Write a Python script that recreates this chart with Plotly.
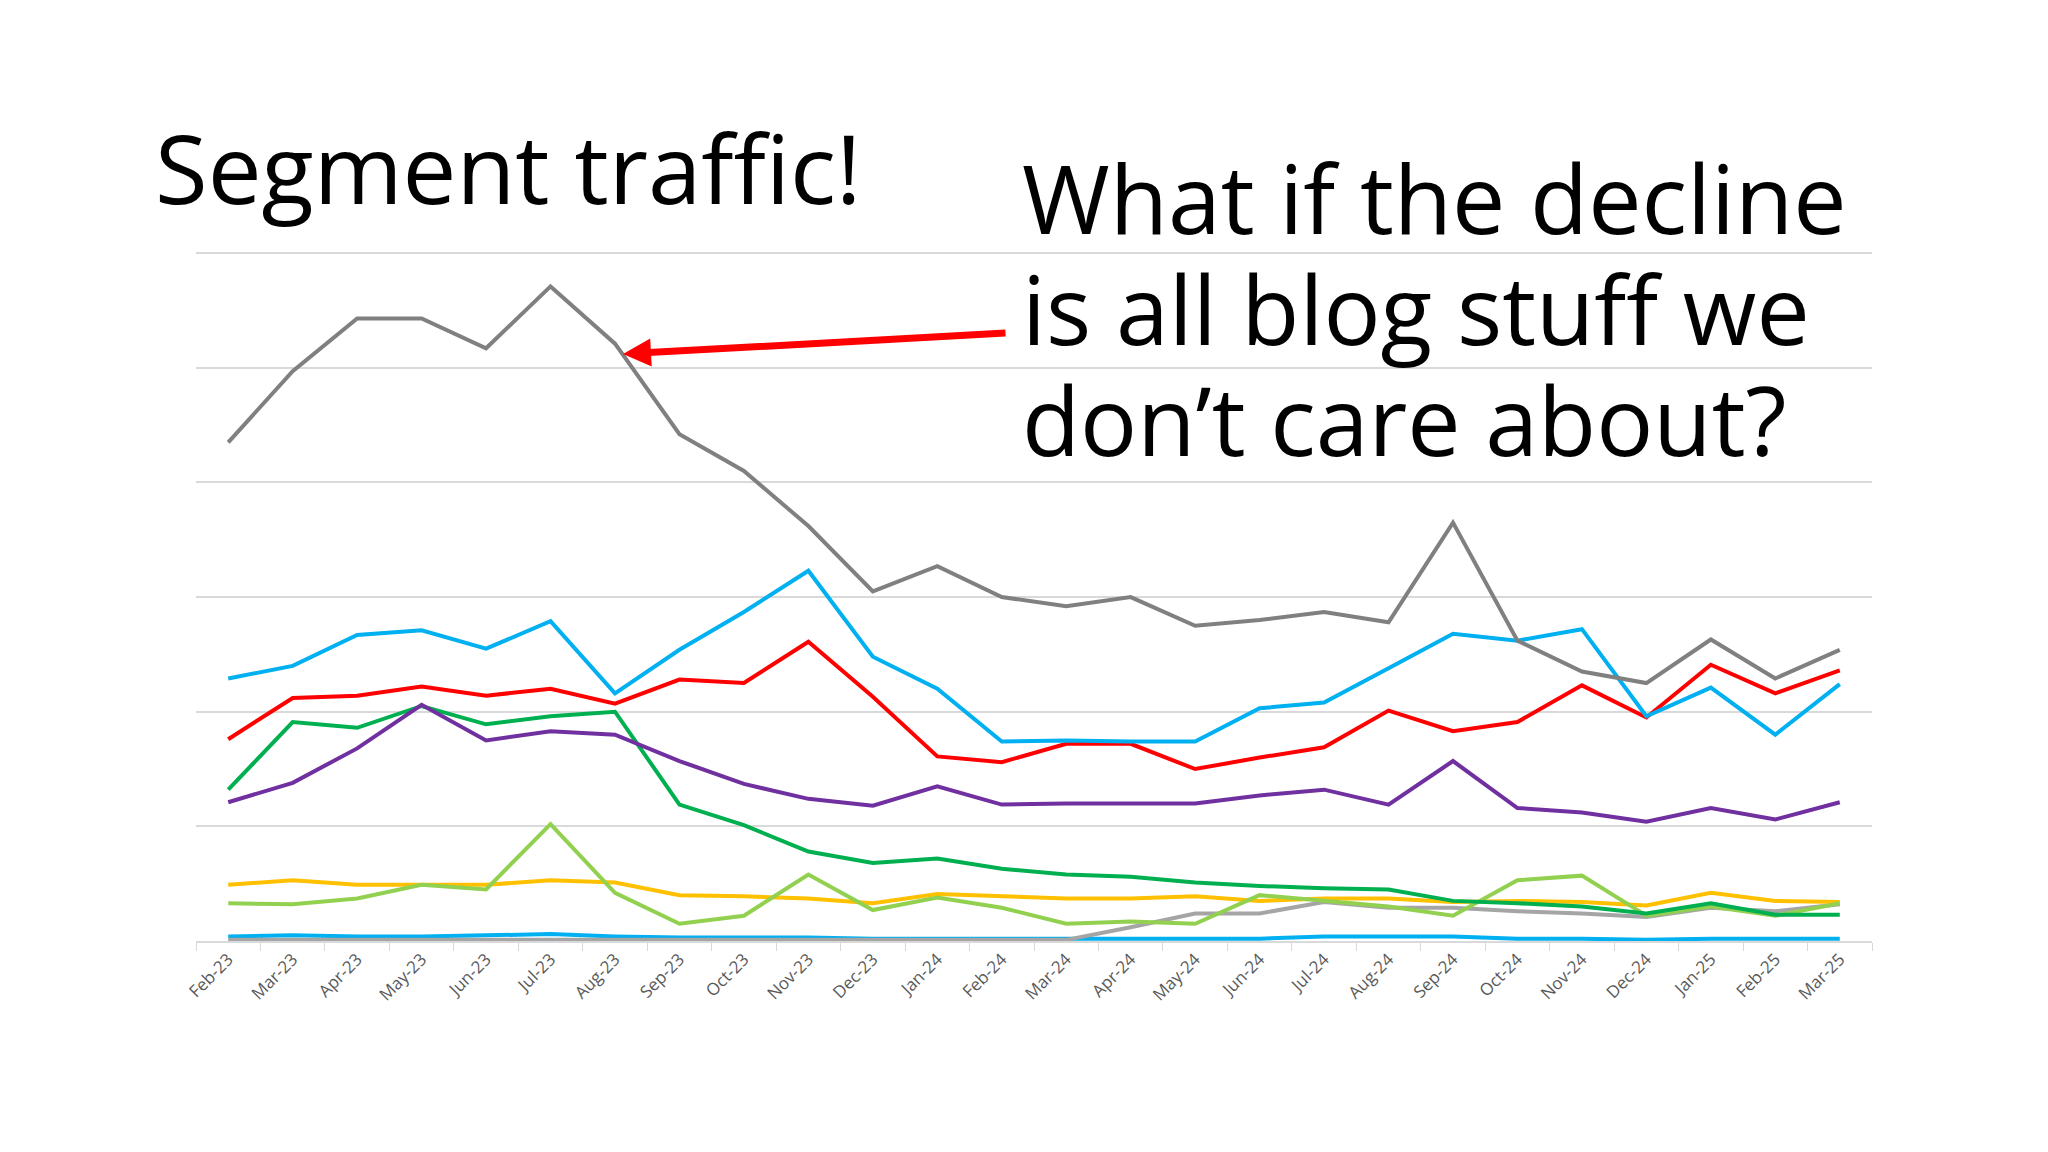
import plotly.graph_objects as go

months = ["Feb-23","Mar-23","Apr-23","May-23","Jun-23","Jul-23","Aug-23","Sep-23","Oct-23","Nov-23","Dec-23",
          "Jan-24","Feb-24","Mar-24","Apr-24","May-24","Jun-24","Jul-24","Aug-24","Sep-24","Oct-24","Nov-24","Dec-24",
          "Jan-25","Feb-25","Mar-25"]

blog = [4.35,4.97,5.43,5.43,5.17,5.71,5.21,4.42,4.10,3.62,3.05,3.27,3.0,2.92,3.0,2.75,2.80,2.87,2.78,3.65,2.62,2.35,2.25,2.63,2.29,2.54]
blue = [2.29,2.40,2.67,2.71,2.55,2.79,2.16,2.54,2.87,3.23,2.48,2.20,1.74,1.75,1.74,1.74,2.03,2.08,2.38,2.68,2.62,2.72,1.96,2.21,1.80,2.24]
red = [1.76,2.12,2.14,2.22,2.14,2.20,2.07,2.28,2.25,2.61,2.13,1.61,1.56,1.72,1.72,1.50,1.60,1.69,2.01,1.83,1.91,2.23,1.95,2.41,2.16,2.36]
green = [1.32,1.91,1.86,2.05,1.89,1.96,2.00,1.19,1.01,0.78,0.68,0.72,0.63,0.58,0.56,0.51,0.48,0.46,0.45,0.35,0.33,0.30,0.24,0.33,0.23,0.23]
purple = [1.21,1.38,1.68,2.06,1.75,1.83,1.80,1.57,1.37,1.24,1.18,1.35,1.19,1.20,1.20,1.20,1.27,1.32,1.19,1.57,1.16,1.12,1.04,1.16,1.06,1.21]
lightgreen = [0.33,0.32,0.37,0.49,0.45,1.02,0.42,0.15,0.22,0.58,0.27,0.38,0.29,0.15,0.17,0.15,0.40,0.35,0.30,0.22,0.53,0.57,0.22,0.30,0.22,0.33]
yellow = [0.49,0.53,0.49,0.49,0.49,0.53,0.51,0.40,0.39,0.37,0.33,0.41,0.39,0.37,0.37,0.39,0.35,0.37,0.37,0.34,0.35,0.34,0.31,0.42,0.35,0.34]
lightgray = [0.01,0.01,0.01,0.01,0.01,0.01,0.01,0.01,0.01,0.01,0.01,0.01,0.01,0.01,0.12,0.24,0.24,0.34,0.29,0.29,0.26,0.24,0.21,0.29,0.26,0.32]
cyan = [0.04,0.05,0.04,0.04,0.05,0.06,0.04,0.03,0.03,0.03,0.02,0.02,0.02,0.02,0.02,0.02,0.02,0.04,0.04,0.04,0.02,0.02,0.01,0.02,0.02,0.02]

series = [
    (cyan, "#00B0F0"), (lightgray, "#A5A5A5"), (yellow, "#FFC000"), (lightgreen, "#92D050"),
    (green, "#00B050"), (purple, "#7030A0"), (red, "#FF0000"), (blue, "#00B0F0"), (blog, "#808080"),
]

W, H = 2048, 1152
L, R, T, B = 188, 184, 244, 219
PW, PH = W - L - R, H - T - B
def px(x): return (x - L) / PW
def py(y): return (H - B - y) / PH

fig = go.Figure()
for vals, col in series:
    fig.add_trace(go.Scatter(x=months, y=vals, mode="lines", line=dict(color=col, width=4), showlegend=False))

fig.update_layout(
    width=W, height=H, paper_bgcolor="white", plot_bgcolor="white",
    margin=dict(l=L, r=R, t=T, b=B),
    font=dict(family="Open Sans", color="black"),
    xaxis=dict(type="category", range=[-0.5, 25.5], tickangle=-45, tickfont=dict(size=17, color="#595959"),
               showline=True, linecolor="#d9d9d9", linewidth=1.5, ticks="outside", tickson="boundaries",
               tickcolor="#d9d9d9", ticklen=8, showgrid=False),
    yaxis=dict(range=[0, 6.01], tickvals=[1, 2, 3, 4, 5, 6], showticklabels=False, gridcolor="#d9d9d9", gridwidth=1.5,
               zeroline=False, fixedrange=True),
)

fig.add_annotation(xref="paper", yref="paper", x=px(145), y=py(158), xanchor="left", yanchor="middle",
                   text="Segment traffic!", showarrow=False, font=dict(size=96, color="black"))
lines = ["What if the decline", "is all blog stuff we", "don\u2019t care about?"]
for i, t in enumerate(lines):
    yc = 189 + i * 111
    fig.add_annotation(xref="paper", yref="paper", x=px(1012), y=py(yc), xanchor="left", yanchor="middle",
                       text=t, showarrow=False, font=dict(size=95, color="black"))

fig.add_annotation(xref="paper", yref="paper", x=px(615), y=py(346), text="",
                   showarrow=True, ax=384, ay=-21, arrowcolor="#FF0000", arrowwidth=7, arrowhead=2, arrowsize=0.8,
                   standoff=0)

fig.write_html("out.html")
